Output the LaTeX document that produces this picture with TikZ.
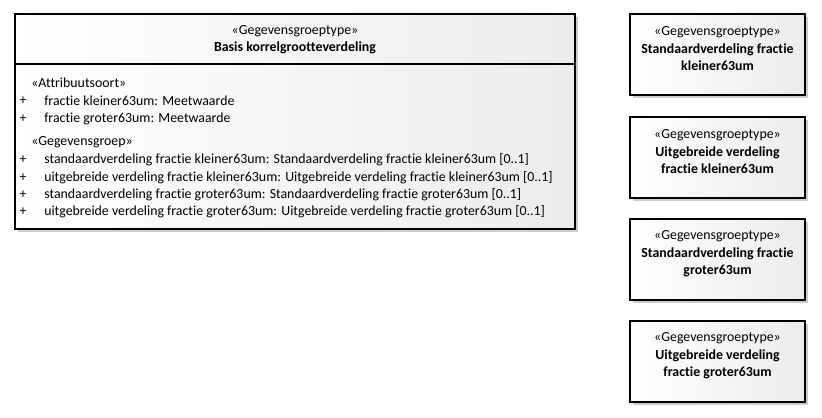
\documentclass[tikz,border=0pt]{standalone}
\usepackage{fontspec}
\setmainfont{Carlito}[RawFeature=-liga]

\begin{document}
\begin{tikzpicture}[x=0.75pt,y=-0.75pt,
  umlbox/.style={draw=black, line width=1pt, left color=white, right color=gray!15},
  umlshadow/.style={fill=gray!40, draw=none},
  umltext/.style={font=\fontsize{10.4}{13.1}\selectfont, inner sep=0pt},
  umltitle/.style={umltext, align=center, anchor=center}]
  \useasboundingbox (0,0) rectangle (822,418);
  % main class
  \fill[umlshadow] (18,17) rectangle (578,232);
  \draw[umlbox] (15,14) rectangle (575,229);
  \draw[line width=1pt] (15,64) -- (575,64);
  \node[umltext] (mainstereo) at (295,31) {«Gegevensgroeptype»};
  \node[umltext, font=\fontsize{10.4}{13.1}\selectfont\bfseries] (mainname) at (295,48) {Basis korrelgrootteverdeling};
  \node[umltext, anchor=west] (attrhead) at (31,83) {«Attribuutsoort»};
  \foreach \y/\n/\t in {101/a1/{fractie kleiner63um: Meetwaarde},
                        118.5/a2/{fractie groter63um: Meetwaarde}}{
    \node[umltext] (plus\n) at (23,\y) {+};
    \node[umltext, anchor=west] (\n) at (44,\y) {\t};
  }
  \node[umltext, anchor=west] (grphead) at (31,142) {«Gegevensgroep»};
  \foreach \y/\n/\t in {160/g1/{standaardverdeling fractie kleiner63um: Standaardverdeling fractie kleiner63um [0..1]},
                        177.5/g2/{uitgebreide verdeling fractie kleiner63um: Uitgebreide verdeling fractie kleiner63um [0..1]},
                        194.5/g3/{standaardverdeling fractie groter63um: Standaardverdeling fractie groter63um [0..1]},
                        212/g4/{uitgebreide verdeling fractie groter63um: Uitgebreide verdeling fractie groter63um [0..1]}}{
    \node[umltext] (plus\n) at (23,\y) {+};
    \node[umltext, anchor=west] (\n) at (44,\y) {\t};
  }
  % datatypes on the right
  \foreach \ty/\n/\la/\lb in {14/sdkleiner/Standaardverdeling fractie/kleiner63um,
                              117/uvkleiner/Uitgebreide verdeling/fractie kleiner63um,
                              219/sdgroter/Standaardverdeling fractie/groter63um,
                              321/uvgroter/Uitgebreide verdeling/fractie groter63um}{
    \fill[umlshadow] (633,\ty+3) rectangle (808,\ty+84);
    \draw[umlbox] (630,\ty) rectangle (805,\ty+81);
    \node[umltitle] (\n) at (717.5,\ty+35) {«Gegevensgroeptype»\\\textbf{\la}\\\textbf{\lb}};
  }
\end{tikzpicture}
\end{document}
